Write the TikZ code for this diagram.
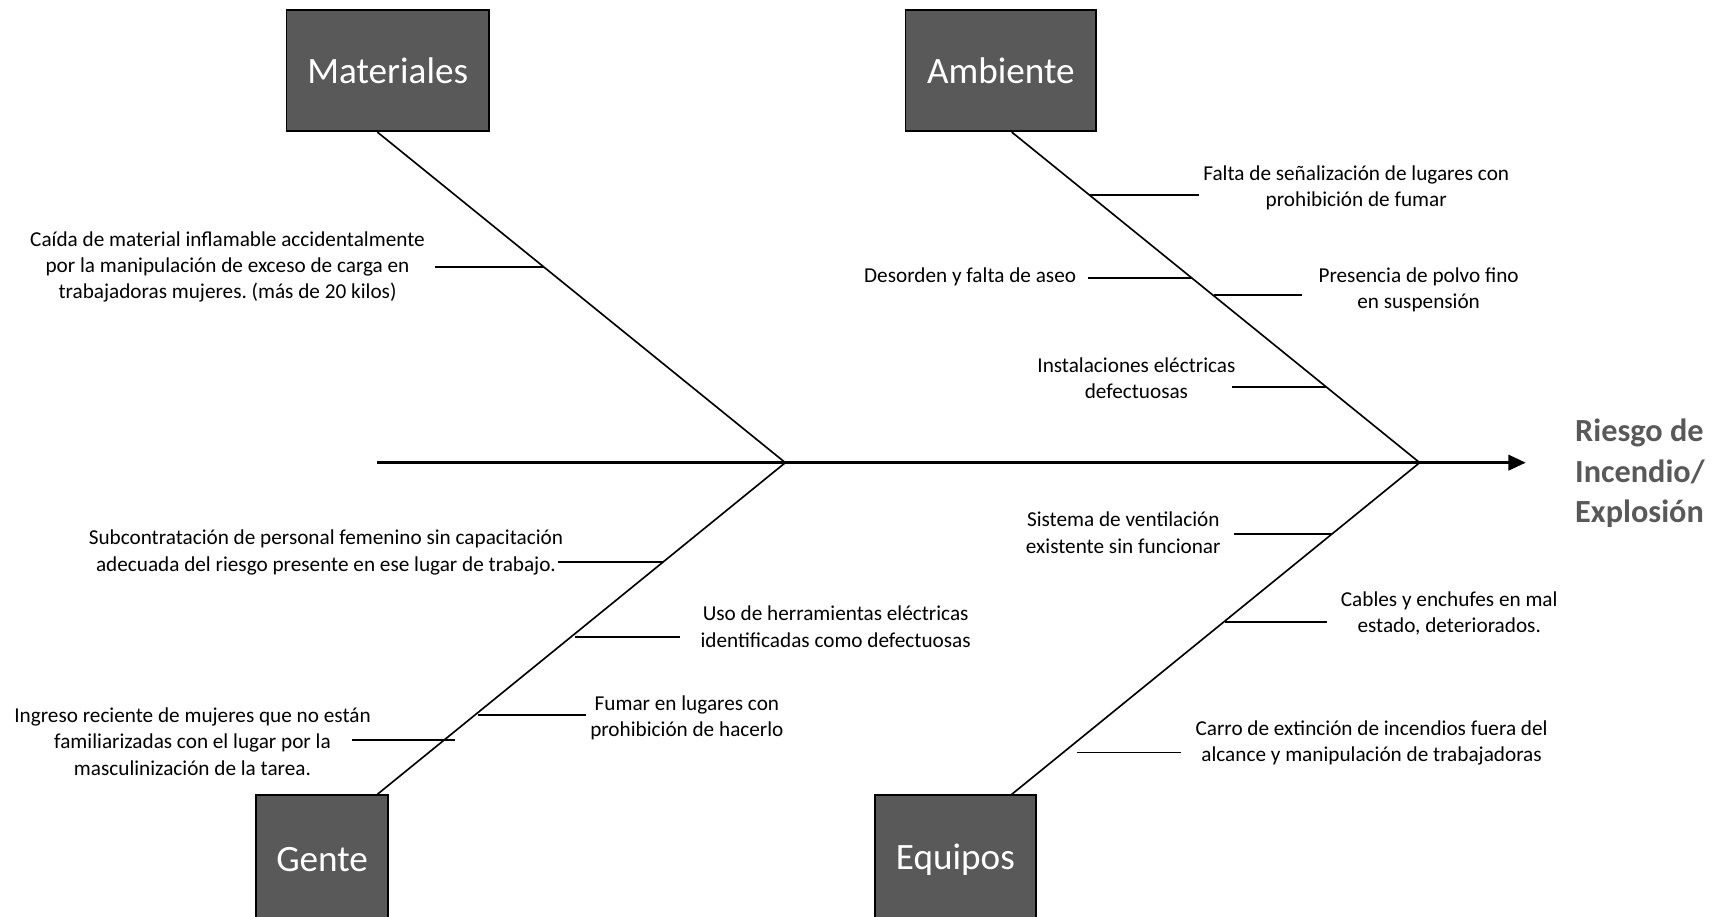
\documentclass[tikz,border=0pt]{standalone}
\usepackage{fontspec}
\setmainfont{Carlito}
\usetikzlibrary{arrows.meta}
\definecolor{boxgray}{HTML}{595959}
\frenchspacing

\begin{document}
\begin{tikzpicture}[x=1pt,y=-1pt,
    cat node/.style={draw=black,line width=1.5pt,fill=boxgray,text=white,font=\fontsize{34}{40}\selectfont},
    cause node/.style={align=center,inner sep=0pt,font=\fontsize{19.4}{24}\selectfont},
    bone/.style={line width=1.5pt},
    rib/.style={line width=1.8pt}]
    \useasboundingbox (0,0) rectangle (1568,838);

    % categories
    \node[cat node,minimum width=185pt,minimum height=111pt] (mat) at (354.5,64.5) {Materiales};
    \node[cat node,minimum width=174pt,minimum height=111pt] (amb) at (915,64.5) {Ambiente};
    \node[cat node,minimum width=121pt,minimum height=118pt] (gen) at (294.5,786) {Gente};
    \node[cat node,minimum width=147pt,minimum height=118pt] (equ) at (873.5,786) {Equipos};

    % effect
    \node[anchor=west,align=left,inner sep=0pt,text=boxgray,font=\fontsize{29.5}{37}\selectfont\bfseries] (efecto) at (1440,433) {Riesgo de\\Incendio/\\Explosión};

    % spine
    \coordinate (tail) at (345,423);
    \coordinate (mid) at (718,423);
    \coordinate (head) at (1298,423);
    \coordinate (tip) at (1395,423);
    \draw[line width=3pt,-{Triangle[length=16pt,width=14pt]}] (tail) -- (tip);

    % main bones
    \draw[bone] ([xshift=-9.5pt]mat.south) -- (mid);
    \draw[bone] ([xshift=10pt]amb.south) -- (head);
    \draw[bone] (mid) -- ([xshift=50.5pt]gen.north);
    \draw[bone] (head) -- ([xshift=51.5pt]equ.north);

    % causes: materiales
    \node[cause node] (m1) at (208,244) {Caída de material inflamable accidentalmente\\por la manipulación de exceso de carga en\\trabajadoras mujeres. (más de 20 kilos)};
    \coordinate (m1a) at (497,244);
    \coordinate (m1b) at (398,244);
    \draw[rib] (m1a) -- (m1b);

    % causes: ambiente
    \node[cause node] (a1) at (1240,172) {Falta de señalización de lugares con\\prohibición de fumar};
    \coordinate (a1a) at (996,178);
    \coordinate (a1b) at (1096,178);
    \draw[rib] (a1a) -- (a1b);

    \node[cause node,anchor=east] (a2) at (984,253) {Desorden y falta de aseo};
    \coordinate (a2a) at (1090,254);
    \coordinate (a2b) at (995,254);
    \draw[rib] (a2a) -- (a2b);

    \node[cause node] (a3) at (1297,265) {Presencia de polvo fino\\en suspensión};
    \coordinate (a3a) at (1110,270);
    \coordinate (a3b) at (1190,270);
    \draw[rib] (a3a) -- (a3b);

    \node[cause node] (a4) at (1039,346) {Instalaciones eléctricas\\defectuosas};
    \coordinate (a4a) at (1213,354);
    \coordinate (a4b) at (1126,354);
    \draw[rib] (a4a) -- (a4b);

    % causes: gente
    \node[cause node] (g1) at (298,505) {Subcontratación de personal femenino sin capacitación\\adecuada del riesgo presente en ese lugar de trabajo.};
    \coordinate (g1a) at (606,514);
    \coordinate (g1b) at (510,514);
    \draw[rib] (g1a) -- (g1b);

    \node[cause node] (g2) at (764,573) {Uso de herramientas eléctricas\\identificadas como defectuosas};
    \coordinate (g2a) at (526,582);
    \coordinate (g2b) at (622,582);
    \draw[rib] (g2a) -- (g2b);

    \node[cause node] (g3) at (628,656) {Fumar en lugares con\\prohibición de hacerlo};
    \coordinate (g3a) at (437,654);
    \coordinate (g3b) at (536,654);
    \draw[rib] (g3a) -- (g3b);

    \node[cause node] (g4) at (176,678) {Ingreso reciente de mujeres que no están\\familiarizadas con el lugar por la\\masculinización de la tarea.};
    \coordinate (g4a) at (416,677);
    \coordinate (g4b) at (322,677);
    \draw[rib] (g4a) -- (g4b);

    % causes: equipos
    \node[cause node] (e1) at (1027,487) {Sistema de ventilación\\existente sin funcionar};
    \coordinate (e1a) at (1218,488);
    \coordinate (e1b) at (1128,488);
    \draw[rib] (e1a) -- (e1b);

    \node[cause node] (e2) at (1325,561) {Cables y enchufes en mal\\estado, deteriorados.};
    \coordinate (e2a) at (1120,569);
    \coordinate (e2b) at (1213,569);
    \draw[rib] (e2a) -- (e2b);

    \node[cause node] (e3) at (1254,679) {Carro de extinción de incendios fuera del\\alcance y manipulación de trabajadoras};
    \coordinate (e3a) at (985,688);
    \coordinate (e3b) at (1080,688);
    \draw[rib] (e3a) -- (e3b);

\end{tikzpicture}
\end{document}
